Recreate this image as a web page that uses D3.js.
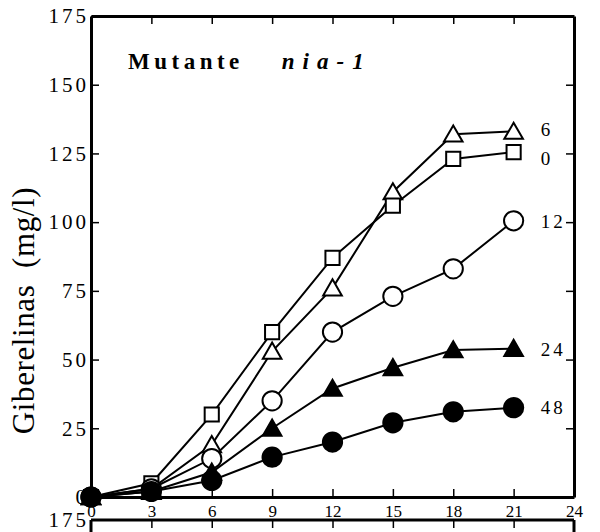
<!DOCTYPE html>
<html>
<head>
<meta charset="utf-8">
<script src="https://cdn.jsdelivr.net/npm/d3@7"></script>
<style>
  body { margin: 0; background: #fff; }
  svg { display: block; }
  text { font-family: "Liberation Serif", "DejaVu Serif", serif; fill: #000; }
</style>
</head>
<body>
<svg id="chart" width="600" height="532"></svg>
<script>
// days after inoculation
const days = [0, 3, 6, 9, 12, 15, 18, 21];
const xTicks = [0, 3, 6, 9, 12, 15, 18, 21, 24];
const yTicks = [0, 25, 50, 75, 100, 125, 150, 175];

// series names (hours) and values
const seriesNames = ["6", "0", "12", "24", "48"];
const seriesShapes = ["triangle", "square", "circle", "triangle", "circle"];
const seriesFilled = [false, false, false, true, true];
const serie6 = [0, 3, 19, 53, 76, 111, 132, 133];
const serie0 = [0, 5, 30, 60, 87, 106, 123, 125.5];
const serie12 = [0, 3, 14, 35, 60, 73, 83, 100.5];
const serie24 = [0, 2, 9, 25, 39.5, 47, 53.5, 54];
const serie48 = [0, 2, 6, 14.5, 20, 27, 31, 32.5];
const seriesValues = [serie6, serie0, serie12, serie24, serie48];

const margin = { top: 16, right: 26, bottom: 35, left: 91 };
const width = 600 - margin.left - margin.right;
const height = 532 - margin.top - margin.bottom;

const svg = d3.select("#chart");
const g = svg.append("g").attr("transform", `translate(${margin.left},${margin.top})`);

const x = d3.scaleLinear().domain([0, 24]).range([0, width]);
const y = d3.scaleLinear().domain([0, 175]).range([height, 0]);

// axes, ticks pointing inward
const tickLen = 8;
const leftAxis = g.append("g")
    .call(d3.axisLeft(y).tickValues(yTicks).tickSize(-tickLen).tickPadding(5).tickSizeOuter(0));
const rightAxis = g.append("g").attr("transform", `translate(${width},0)`)
    .call(d3.axisRight(y).tickValues(yTicks.slice(1, -1)).tickSize(-tickLen).tickSizeOuter(0).tickFormat(""));
const topAxis = g.append("g")
    .call(d3.axisTop(x).tickValues(xTicks.slice(1, -1)).tickSize(-tickLen).tickSizeOuter(0).tickFormat(""));
const bottomAxis = g.append("g").attr("transform", `translate(0,${height})`)
    .call(d3.axisBottom(x).tickValues(xTicks).tickSize(-tickLen).tickPadding(8).tickSizeOuter(0));

[leftAxis, rightAxis, topAxis, bottomAxis].forEach(a => {
    a.select(".domain").attr("stroke", "#000").attr("stroke-width", 3);
    a.selectAll(".tick line").attr("stroke", "#000").attr("stroke-width", 1.5);
});

leftAxis.selectAll(".tick text")
    .style("font-size", "21px")
    .style("letter-spacing", "3px")
    .attr("dx", "3px");
bottomAxis.selectAll(".tick text")
    .style("font-size", "17px");

// y axis title
g.append("text")
    .attr("transform", `translate(-57,${height / 2 + 54}) rotate(-90)`)
    .attr("text-anchor", "middle")
    .style("font-size", "31px")
    .style("letter-spacing", "0.6px")
    .style("white-space", "pre")
    .text("Giberelinas  (mg/l)");

// panel title
const title = g.append("text")
    .attr("x", 37)
    .attr("y", 53)
    .style("font-size", "23px")
    .style("font-weight", "bold");
title.append("tspan").style("letter-spacing", "4.5px").text("Mutante");
title.append("tspan").attr("dx", 38).style("font-style", "italic").style("letter-spacing", "8px").text("nia-1");

// lines and markers
const line = d3.line()
    .x(d => x(d.day))
    .y(d => y(d.value));

const symbolFor = {
    triangle: d3.symbol().type(d3.symbolTriangle).size(150),
    square: d3.symbol().type(d3.symbolSquare).size(200),
    circle: d3.symbol().type(d3.symbolCircle).size(290)
};

// small vertical nudges so end labels sit as in the original
const labelNudge = { "6": -2, "0": 6, "12": 1, "24": 1, "48": 0 };

seriesNames.forEach((name, i) => {
    const pts = days.map((day, j) => ({ day: day, value: seriesValues[i][j] }));
    const sg = g.append("g");
    sg.append("path")
        .datum(pts)
        .attr("d", line)
        .attr("fill", "none")
        .attr("stroke", "#000")
        .attr("stroke-width", 2);
    sg.selectAll("path.marker")
        .data(pts)
        .join("path")
        .attr("class", "marker")
        .attr("transform", d => `translate(${x(d.day)},${y(d.value) + (seriesShapes[i] === "triangle" ? 2 : 0)})`)
        .attr("d", symbolFor[seriesShapes[i]]())
        .attr("fill", seriesFilled[i] ? "#000" : "#fff")
        .attr("stroke", "#000")
        .attr("stroke-width", 2);
    const last = pts[pts.length - 1];
    sg.append("text")
        .attr("x", x(last.day) + 27)
        .attr("y", y(last.value) + labelNudge[name])
        .attr("dy", "0.35em")
        .style("font-size", "19px")
        .style("letter-spacing", "3px")
        .text(name);
});

// top of the next panel, cut off by the page
const g2 = svg.append("g").attr("transform", `translate(${margin.left},520)`);
const top2 = g2.append("g")
    .call(d3.axisBottom(x).tickValues(xTicks.slice(1, -1)).tickSize(tickLen).tickSizeOuter(0).tickFormat(""));
top2.select(".domain").remove();
g2.append("line").attr("x1", 0).attr("x2", width).attr("stroke", "#000").attr("stroke-width", 3);
g2.append("line").attr("x1", 0).attr("x2", 0).attr("y2", 20).attr("stroke", "#000").attr("stroke-width", 3);
g2.append("line").attr("x1", width).attr("x2", width).attr("y2", 20).attr("stroke", "#000").attr("stroke-width", 3);
top2.selectAll(".tick line").attr("stroke", "#000").attr("stroke-width", 1.5);
g2.append("text")
    .attr("x", -2)
    .attr("y", 0)
    .attr("dy", "0.32em")
    .attr("text-anchor", "end")
    .style("font-size", "21px")
    .style("letter-spacing", "3px")
    .text("175");
</script>
</body>
</html>
